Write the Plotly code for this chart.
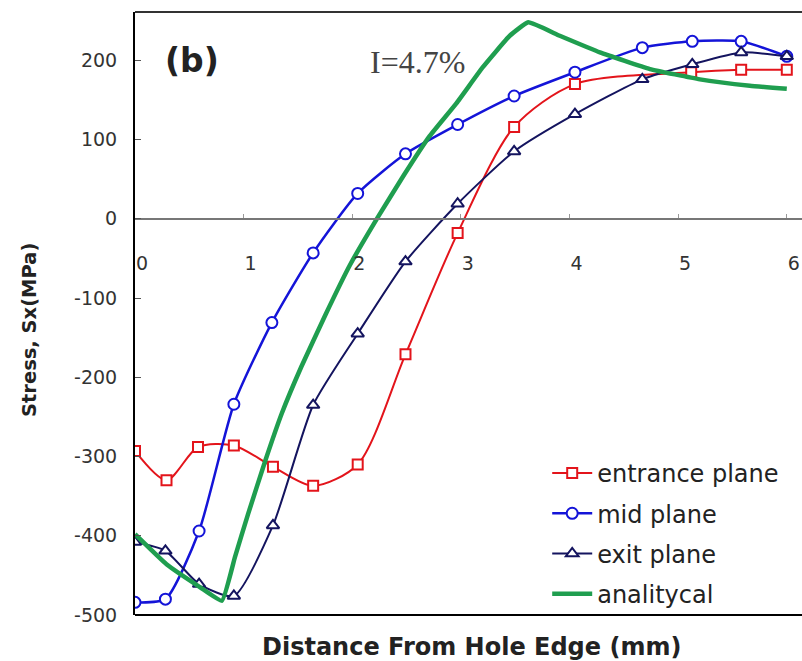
import plotly.graph_objects as go

# ---- data ----
x_fe = [0, 0.29, 0.58, 0.91, 1.27, 1.64, 2.05, 2.49, 2.97, 3.49, 4.05, 5.12, 5.58, 6.0]
entrance = [-293, -330, -288, -286, -313, -337, -310, -171, -18, 116, 170, 185, 188, 188]

x_mid = [0, 0.28, 0.59, 0.91, 1.26, 1.64, 2.05, 2.49, 2.97, 3.49, 4.05, 4.67, 5.13, 5.58, 6.0]
mid = [-484, -480, -394, -234, -131, -43, 32, 82, 119, 155, 185, 216, 224, 224, 205]

x_exit = [0, 0.28, 0.59, 0.91, 1.27, 1.64, 2.05, 2.49, 2.97, 3.49, 4.05, 4.67, 5.13, 5.58, 6.0]
exitp = [-408, -419, -461, -476, -387, -235, -145, -54, 19, 85, 132, 176, 195, 210, 205]

x_an = [0, 0.29, 0.6, 0.8, 0.92, 1.04, 1.2, 1.35, 1.53, 1.75, 1.98, 2.24, 2.47, 2.71, 2.96, 3.2,
        3.45, 3.62, 3.91, 4.28, 4.74, 5.2, 5.66, 6.0]
analytical = [-398, -436, -465, -482, -427, -373, -305, -246, -187, -122, -58, 3, 54, 104, 146, 191,
              231, 248, 231, 210, 189, 176, 168, 164]

x_ticks = [0, 1, 2, 3, 4, 5, 6]
y_ticks = [-500, -400, -300, -200, -100, 0, 100, 200]

X_RANGE = [0, 6.14]
Y_RANGE = [-500, 261]

RED = "#e3141b"
BLUE = "#1414d8"
NAVY = "#14145f"
GREEN = "#1f9e4f"
FONT = "DejaVu Sans, sans-serif"

fig = go.Figure()
fig.add_trace(go.Scatter(
    x=x_fe, y=entrance, name="entrance plane", mode="lines+markers",
    line=dict(color=RED, width=2, shape="spline", smoothing=0.8),
    marker=dict(symbol="square", size=10, color="white", line=dict(color=RED, width=2)),
    legendgroup="a"))
fig.add_trace(go.Scatter(
    x=x_mid, y=mid, name="mid plane", mode="lines+markers",
    line=dict(color=BLUE, width=2.5, shape="spline", smoothing=0.6),
    marker=dict(symbol="circle", size=11, color="white", line=dict(color=BLUE, width=2)),
    legendgroup="b"))
fig.add_trace(go.Scatter(
    x=x_exit, y=exitp, name="exit plane", mode="lines+markers",
    line=dict(color=NAVY, width=2, shape="spline", smoothing=0.6),
    marker=dict(symbol="triangle-up", size=11, color="white", line=dict(color=NAVY, width=2)),
    legendgroup="c"))
fig.add_trace(go.Scatter(
    x=x_an, y=analytical, name="analitycal", mode="lines",
    line=dict(color=GREEN, width=4.5, shape="spline", smoothing=0.35),
    legendgroup="d"))

# bottom / top border lines of the plot frame
fig.add_shape(type="line", xref="paper", yref="paper", x0=0, x1=1, y0=0, y1=0,
              line=dict(color="black", width=2))
fig.add_shape(type="line", xref="paper", yref="paper", x0=0, x1=1, y0=1, y1=1,
              line=dict(color="#333333", width=2))

zero_pos = (0 - Y_RANGE[0]) / (Y_RANGE[1] - Y_RANGE[0])

fig.update_layout(
    width=802, height=661,
    margin=dict(l=135, r=0, t=12, b=46),
    paper_bgcolor="white", plot_bgcolor="white",
    font=dict(family=FONT, color="#333333"),
    showlegend=True,
    legend=dict(x=0.618, y=0.272, xanchor="left", yanchor="top",
                bgcolor="rgba(0,0,0,0)", font=dict(size=24, color="#222222", family=FONT),
                traceorder="grouped", tracegroupgap=6, itemwidth=40),
    xaxis=dict(range=X_RANGE, anchor="free", position=zero_pos,
               showgrid=False, zeroline=False, showline=True, linecolor="#777777", linewidth=2,
               tickmode="array", tickvals=x_ticks, ticktext=[str(v) for v in x_ticks],
               ticks="inside", ticklen=4, tickcolor="#999999",
               ticklabelstandoff=27, ticklabelshift=7,
               tickfont=dict(size=19, color="#333333", family=FONT)),
    yaxis=dict(range=Y_RANGE, showgrid=False, zeroline=False,
               showline=True, linecolor="black", linewidth=2,
               tickmode="array", tickvals=y_ticks, ticktext=[str(v) for v in y_ticks],
               ticks="inside", ticklen=6, tickcolor="#555555",
               ticklabelstandoff=12, tickfont=dict(size=19, color="#333333", family=FONT)),
)

fig.add_annotation(text="<b>Stress, Sx(MPa)</b>", xref="paper", yref="paper",
                   x=-0.157, y=0.473, xanchor="center", yanchor="middle", showarrow=False,
                   textangle=-90, font=dict(size=19.5, color="#222222", family=FONT))
fig.add_annotation(text="<b>Distance From Hole Edge (mm)</b>", xref="paper", yref="paper",
                   x=0.505, y=-0.053, xanchor="center", yanchor="middle", showarrow=False,
                   font=dict(size=24, color="#222222", family=FONT))
fig.add_annotation(text="<b>(b)</b>", xref="paper", yref="paper",
                   x=0.086, y=0.92, xanchor="center", yanchor="middle", showarrow=False,
                   font=dict(size=33, color="#222222", family=FONT))
fig.add_annotation(text="I=4.7%", xref="paper", yref="paper",
                   x=0.423, y=0.917, xanchor="center", yanchor="middle", showarrow=False,
                   font=dict(size=32, color="#444444", family="Liberation Serif, serif"))

fig.write_html("out.html")
